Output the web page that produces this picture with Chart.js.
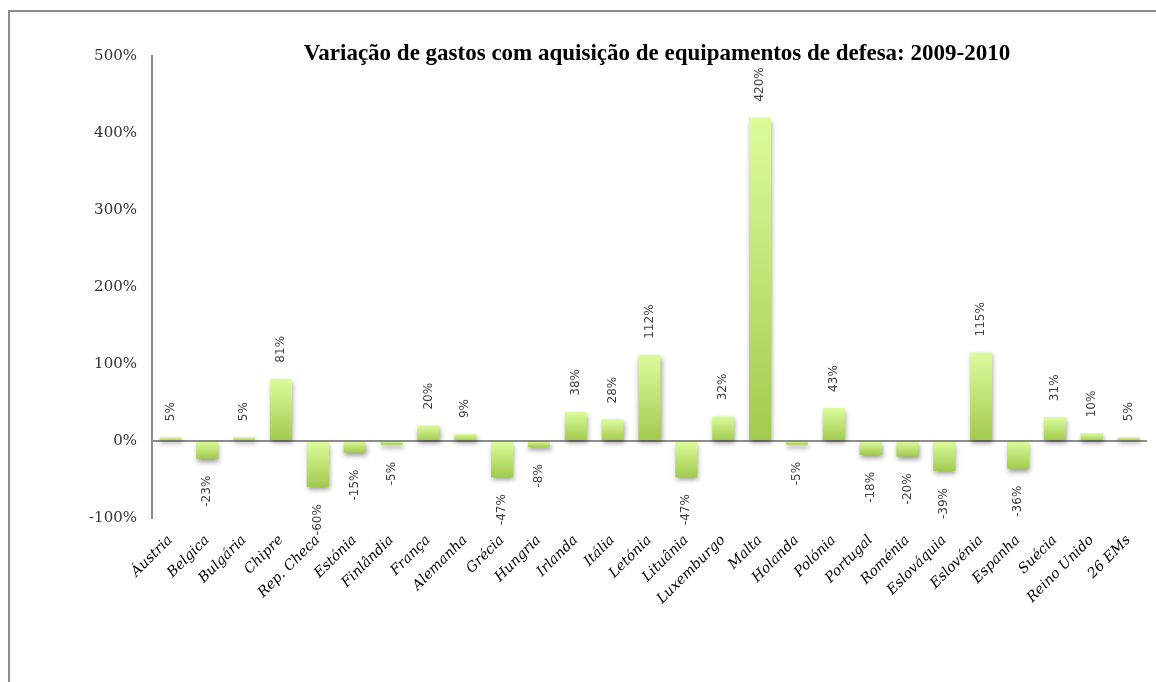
<!DOCTYPE html>
<html>
<head>
<meta charset="utf-8">
<script src="https://cdn.jsdelivr.net/npm/chart.js@4.4.1/dist/chart.umd.min.js"></script>
<style>
  html, body { margin: 0; padding: 0; background: #fff; overflow: hidden; }
  #wrap { position: relative; width: 1156px; height: 682px; }
  #frame {
    position: absolute; left: 8px; top: 10px; width: 1300px; height: 800px;
    border: 2px solid #8c8c8c; box-sizing: border-box;
  }
  #title {
    position: absolute; left: 0; top: 40px; width: 1314px; text-align: center;
    font: bold 23px "Liberation Serif", serif; color: #000; white-space: nowrap;
  }
  canvas { position: absolute; left: 0; top: 0; }
</style>
</head>
<body>
<div id="wrap">
  <div id="frame"></div>
  <canvas id="chart-bars" width="1156" height="682"></canvas>
  <div id="title">Variação de gastos com aquisição de equipamentos de defesa: 2009-2010</div>
</div>
<script>
const countries = ["Áustria", "Belgica", "Bulgária", "Chipre", "Rep. Checa", "Estónia", "Finlândia",
    "França", "Alemanha", "Grécia", "Hungria", "Irlanda", "Itália", "Letónia", "Lituânia",
    "Luxemburgo", "Malta", "Holanda", "Polónia", "Portugal", "Roménia", "Eslováquia",
    "Eslovénia", "Espanha", "Suécia", "Reino Unido", "26 EMs"];
const variation = [5, -23, 5, 81, -60, -15, -5, 20, 9, -47, -8, 38, 28, 112, -47,
    32, 420, -5, 43, -18, -20, -39, 115, -36, 31, 10, 5];
const yTicks = [-100, 0, 100, 200, 300, 400, 500];

// each bar gets its own light-to-dark vertical gradient
function barFill(context) {
    const chart = context.chart;
    const y = chart.scales.y;
    if (!chart.chartArea || !y || context.parsed === undefined) return "#c4e47a";
    const v = context.parsed.y;
    const p0 = y.getPixelForValue(0);
    const p1 = y.getPixelForValue(v);
    const top = Math.min(p0, p1), bottom = Math.max(p0, p1);
    if (bottom - top < 1) return "#c4e47a";
    const g = chart.ctx.createLinearGradient(0, top, 0, bottom);
    g.addColorStop(0, "#dcfc9c");
    g.addColorStop(1, "#a2ca4e");
    return g;
}

const barShadow = {
    id: "barShadow",
    beforeDatasetsDraw(chart) {
        const ctx = chart.ctx;
        ctx.save();
        ctx.shadowColor = "rgba(0,0,0,0.4)";
        ctx.shadowBlur = 5;
        ctx.shadowOffsetX = 1;
        ctx.shadowOffsetY = 3;
    },
    afterDatasetsDraw(chart) {
        chart.ctx.restore();
    }
};

// vertical value labels above positive bars and below negative ones
const valueLabels = {
    id: "valueLabels",
    afterDatasetsDraw(chart) {
        const ctx = chart.ctx;
        const meta = chart.getDatasetMeta(0);
        ctx.save();
        ctx.font = "12px 'DejaVu Sans', sans-serif";
        ctx.fillStyle = "#404040";
        ctx.textBaseline = "middle";
        meta.data.forEach((bar, i) => {
            const v = variation[i];
            const top = Math.min(bar.y, bar.base);
            const bottom = Math.max(bar.y, bar.base);
            ctx.save();
            if (v >= 0) {
                ctx.translate(bar.x, top - 16);
                ctx.rotate(-Math.PI / 2);
                ctx.textAlign = "left";
            } else {
                ctx.translate(bar.x, bottom + 17);
                ctx.rotate(-Math.PI / 2);
                ctx.textAlign = "right";
            }
            ctx.fillText(v + "%", 0, 0);
            ctx.restore();
        });
        ctx.restore();
    }
};

document.addEventListener("DOMContentLoaded", function () {
    const ctx = document.getElementById("chart-bars").getContext("2d");

    new Chart(ctx, {
        type: "bar",
        data: {
            labels: countries,
            datasets: [{
                data: variation,
                backgroundColor: barFill,
                borderWidth: 0,
                categoryPercentage: 1,
                barPercentage: 0.6
            }]
        },
        plugins: [barShadow, valueLabels],
        options: {
            responsive: false,
            animation: false,
            layout: { padding: { top: 56, right: 9, bottom: 0, left: 0 } },
            plugins: {
                legend: { display: false },
                title: { display: false },
                tooltip: { enabled: false }
            },
            scales: {
                x: {
                    grid: { display: false, drawTicks: false },
                    border: { display: false },
                    ticks: {
                        autoSkip: false,
                        minRotation: 45,
                        maxRotation: 45,
                        padding: 14,
                        color: "#000",
                        font: { family: "'DejaVu Serif', serif", style: "italic", size: 14 }
                    },
                    afterFit(scale) { scale.height = 164; }
                },
                y: {
                    min: -100,
                    max: 500,
                    afterBuildTicks(scale) { scale.ticks = yTicks.map(v => ({ value: v })); },
                    grid: {
                        drawTicks: false,
                        color: c => c.tick && c.tick.value === 0 ? "#8c8c8c" : "rgba(0,0,0,0)",
                        lineWidth: 2
                    },
                    border: { display: true, color: "#8c8c8c", width: 2 },
                    ticks: {
                        padding: 15,
                        color: "#333",
                        font: { family: "'DejaVu Serif', serif", size: 15 },
                        callback: v => v + "%"
                    },
                    afterFit(scale) { scale.width = 152; }
                }
            }
        }
    });
});
</script>
</body>
</html>
